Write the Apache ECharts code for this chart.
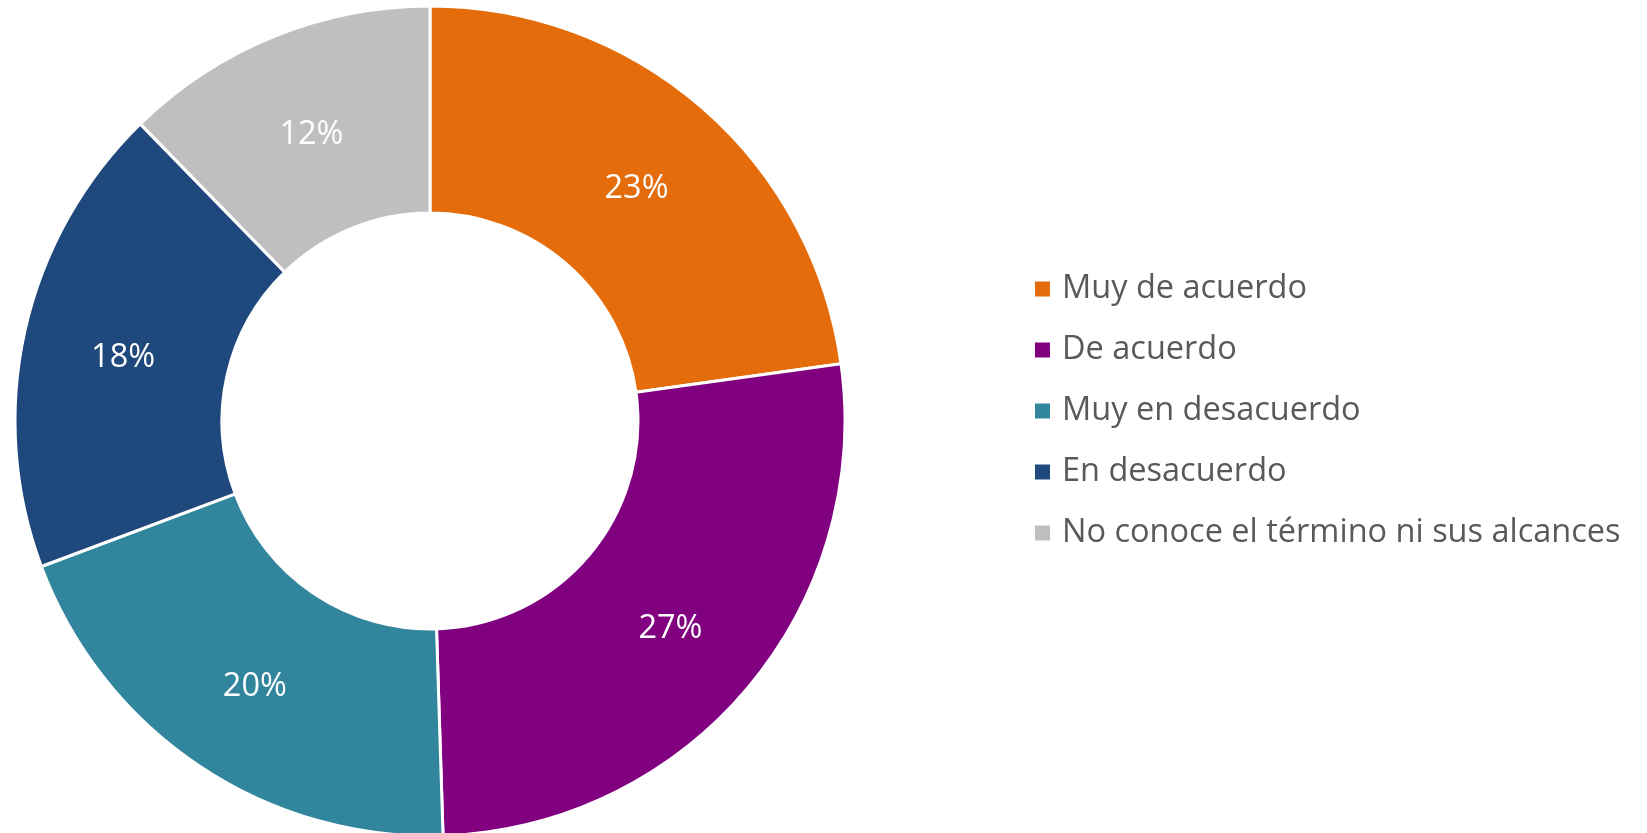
<!DOCTYPE html>
<html>
<head>
<meta charset="utf-8">
<script src="https://cdn.jsdelivr.net/npm/echarts@6/dist/echarts.min.js"></script>
<style>
html,body{margin:0;padding:0;background:#fff;}
#chart{width:1647px;height:833px;}
</style>
</head>
<body>
<div id="chart"></div>
<script>
const categories = ["Muy de acuerdo", "De acuerdo", "Muy en desacuerdo", "En desacuerdo", "No conoce el término ni sus alcances"];
const values = [22.8, 26.7, 19.8, 18.4, 12.3];
const colors = ["#E46C0A", "#800080", "#31859C", "#1F497D", "#BFBFBF"];

const chart = echarts.init(document.getElementById('chart'));
chart.setOption({
  animation: false,
  backgroundColor: '#ffffff',
  color: colors,
  legend: {
    orient: 'vertical',
    left: 1030,
    top: 264,
    itemWidth: 15,
    itemHeight: 15,
    itemGap: 21,
    icon: 'rect',
    itemStyle: { borderWidth: 0 },
    textStyle: {
      fontFamily: 'Open Sans',
      fontSize: 32.5,
      color: '#595959',
      lineHeight: 40,
      padding: [0, 0, 0, 7]
    },
    data: categories
  },
  series: [{
    type: 'pie',
    center: [430, 421],
    radius: [208, 415],
    startAngle: 90,
    clockwise: true,
    percentPrecision: 0,
    avoidLabelOverlap: false,
    itemStyle: { borderColor: '#ffffff', borderWidth: 3 },
    label: {
      show: true,
      position: 'inside',
      formatter: '{d}%',
      color: '#ffffff',
      fontFamily: 'Open Sans',
      fontSize: 32.5,
      offset: [0, 5]
    },
    labelLine: { show: false },
    emphasis: { disabled: true },
    data: categories.map((c, i) => ({ name: c, value: values[i] }))
  }]
});
</script>
</body>
</html>
